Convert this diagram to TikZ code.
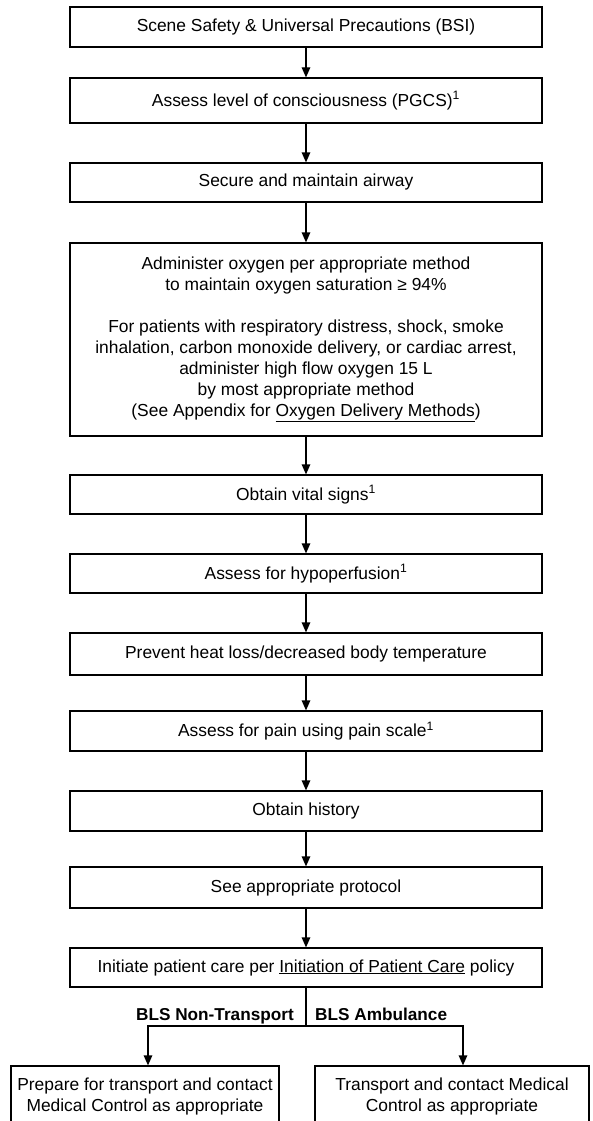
\documentclass[tikz,border=0pt]{standalone}
\usepackage{fontspec}
\setmainfont{Liberation Sans}
\usetikzlibrary{arrows.meta}
\begin{document}
\begin{tikzpicture}[x=1pt,y=-1pt,
  box/.style={draw, line width=1.2pt, minimum width=472pt, inner sep=0pt, align=center, font=\fontsize{17.4}{21}\selectfont},
  sbox/.style={draw, line width=1.2pt, inner sep=0pt, align=center, font=\fontsize{17.4}{21}\selectfont, minimum height=61pt},
  arr/.style={line width=1.2pt, -{Triangle[width=8.5pt,length=10pt]}},
  ln/.style={line width=1.2pt},
  lab/.style={font=\fontsize{17.2}{20}\selectfont\bfseries, inner sep=0pt}]
\useasboundingbox (0,0) rectangle (592,1121);
\clip (0,0) rectangle (592,1121);
\node[box, minimum height=40] (b1) at (306,27) {Scene Safety \& Universal Precautions (BSI)};
\node[box, minimum height=45] (b2) at (306,100.5) {Assess level of consciousness (PGCS)\textsuperscript{1}};
\node[box, minimum height=39] (b3) at (306,182.5) {Secure and maintain airway};
\node[box, minimum height=193] (b4) at (306,339.5) {Administer oxygen per appropriate method\\
to maintain oxygen saturation ≥ 94\%\\[21pt]
For patients with respiratory distress, shock, smoke\\
inhalation, carbon monoxide delivery, or cardiac arrest,\\
administer high flow oxygen 15 L\\
by most appropriate method\\
(See Appendix for \underline{Oxygen Delivery Methods})};
\node[box, minimum height=39] (b5) at (306,494.5) {Obtain vital signs\textsuperscript{1}};
\node[box, minimum height=39] (b6) at (306,573.5) {Assess for hypoperfusion\textsuperscript{1}};
\node[box, minimum height=42] (b7) at (306,654) {Prevent heat loss/decreased body temperature};
\node[box, minimum height=40] (b8) at (306,731) {Assess for pain using pain scale\textsuperscript{1}};
\node[box, minimum height=40] (b9) at (306,811) {Obtain history};
\node[box, minimum height=41] (b10) at (306,887.5) {See appropriate protocol};
\node[box, minimum height=39] (b11) at (306,967.5) {Initiate patient care per \underline{Initiation of Patient Care} policy};
\node[sbox, minimum width=268] (bl) at (145,1096.5) {Prepare for transport and contact\\Medical Control as appropriate};
\node[sbox, minimum width=274] (br) at (452,1096.5) {Transport and contact Medical\\Control as appropriate};
\foreach \a/\b in {b1/b2,b2/b3,b3/b4,b4/b5,b5/b6,b6/b7,b7/b8,b8/b9,b9/b10,b10/b11}
  \draw[arr] (\a.south) -- (\b.north);
\coordinate (j) at (306,1026);
\coordinate (jl) at (148,1026);
\coordinate (jr) at (463,1026);
\draw[ln] (b11.south) -- (j);
\draw[arr] (j) -- (jl) -- (jl |- bl.north);
\draw[arr] (j) -- (jr) -- (jr |- br.north);
\node[lab, anchor=base east] (lnt) at (294,1020) {BLS Non-Transport};
\node[lab, anchor=base west] (lam) at (315,1020) {BLS Ambulance};
\end{tikzpicture}
\end{document}
